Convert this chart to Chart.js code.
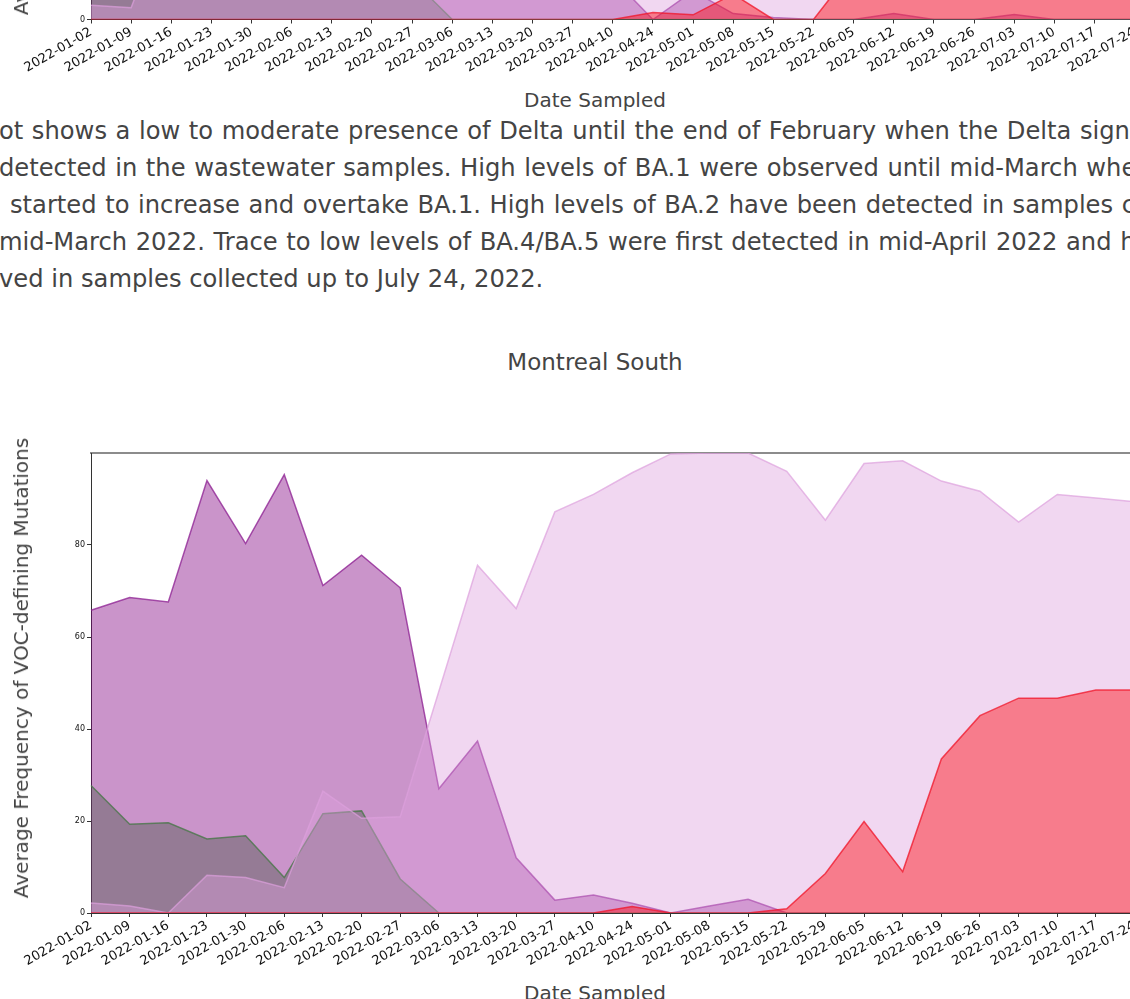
<!DOCTYPE html>
<html>
<head>
<meta charset="utf-8">
<title>Montreal South - VOC mutations</title>
<script src="https://cdn.jsdelivr.net/npm/chart.js@4.4.0/dist/chart.umd.min.js"></script>
<style>
  html, body { margin: 0; padding: 0; background: #fff; }
  body {
    width: 1130px; height: 999px; overflow: hidden; position: relative;
    font-family: "DejaVu Sans", sans-serif; color: #444;
  }
  canvas { position: absolute; left: 0; }
  #topChart { top: -481px; }
  #southChart { top: 440px; }
  .lbl { position: absolute; white-space: nowrap; transform: translate(-50%, -50%); }
  .ylbl { transform: translate(-50%, -50%) rotate(-90deg); font-size: 20px; }
  .para { position: absolute; left: 0; top: 113px; font-size: 24.2px; line-height: 37px; white-space: nowrap; }
  .para .j { word-spacing: 0.9px; }
</style>
</head>
<body>

<!-- bottom of the previous plot (only its x axis is in view) -->
<canvas id="topChart" width="1180" height="560"></canvas>
<div class="lbl ylbl" style="left:21px; top:-215px;">Average Frequency of VOC-defining Mutations</div>
<div class="lbl" style="left:595px; top:100px; font-size:20px;">Date Sampled</div>

<div class="para">
  <div class="j" style="margin-left:-1px">ot shows a low to moderate presence of Delta until the end of February when the Delta signal was no longer</div>
  <div class="j" style="margin-left:-1px">detected in the wastewater samples. High levels of BA.1 were observed until mid-March when BA.2</div>
  <div class="j" style="margin-left:10px">started to increase and overtake BA.1. High levels of BA.2 have been detected in samples collected since</div>
  <div class="j" style="margin-left:-1px">mid-March 2022. Trace to low levels of BA.4/BA.5 were first detected in mid-April 2022 and have been</div>
  <div style="margin-left:-1px">ved in samples collected up to July 24, 2022.</div>
</div>

<div class="lbl" style="left:595px; top:362px; font-size:23px;">Montreal South</div>
<canvas id="southChart" width="1180" height="533"></canvas>
<div class="lbl ylbl" style="left:21px; top:668px;">Average Frequency of VOC-defining Mutations</div>
<div class="lbl" style="left:595px; top:993px; font-size:20px;">Date Sampled</div>

<script>
// Montreal South - weekly samples
const southDates = ['2022-01-02', '2022-01-09', '2022-01-16', '2022-01-23', '2022-01-30', '2022-02-06',
  '2022-02-13', '2022-02-20', '2022-02-27', '2022-03-06', '2022-03-13', '2022-03-20', '2022-03-27',
  '2022-04-10', '2022-04-24', '2022-05-01', '2022-05-08', '2022-05-15', '2022-05-22', '2022-05-29',
  '2022-06-05', '2022-06-12', '2022-06-19', '2022-06-26', '2022-07-03', '2022-07-10', '2022-07-17', '2022-07-24'];
const southDelta = [27.7, 19.3, 19.6, 16.1, 16.8, 7.7, 21.6, 22.2, 7.4, 0, 0, 0, 0, 0,
  0, 0, 0, 0, 0, 0, 0, 0, 0, 0, 0, 0, 0, 0];
const southBA1 = [65.8, 68.6, 67.6, 94.0, 80.3, 95.3, 71.2, 77.8, 70.7, 27.0, 37.4, 12.0, 2.8, 3.9,
  2.1, 0, 1.5, 3.0, 0, 0, 0, 0, 0, 0, 0, 0, 0, 0];
const southBA2 = [2.2, 1.5, 0, 8.2, 7.7, 5.5, 26.5, 20.6, 20.9, 48.2, 75.6, 66.2, 87.2, 91.0,
  95.7, 99.8, 100, 100, 96.0, 85.4, 97.7, 98.3, 93.9, 91.7, 85.0, 91.0, 90.2, 89.4];
const southBA45 = [0, 0, 0, 0, 0, 0, 0, 0, 0, 0, 0, 0, 0, 0,
  1.4, 0, 0, 0, 0.9, 8.6, 19.9, 9.0, 33.5, 42.9, 46.7, 46.7, 48.5, 48.5];

// previous site (only the lowest few percent are visible)
const topDates = ['2022-01-02', '2022-01-09', '2022-01-16', '2022-01-23', '2022-01-30', '2022-02-06',
  '2022-02-13', '2022-02-20', '2022-02-27', '2022-03-06', '2022-03-13', '2022-03-20', '2022-03-27',
  '2022-04-10', '2022-04-24', '2022-05-01', '2022-05-08', '2022-05-15', '2022-05-22',
  '2022-06-05', '2022-06-12', '2022-06-19', '2022-06-26', '2022-07-03', '2022-07-10', '2022-07-17', '2022-07-24'];
const topDelta = [30.5, 24.0, 22.0, 18.5, 15.0, 9.5, 12.5, 14.0, 8.1, 0, 0, 0, 0, 0,
  0, 0, 0, 0, 0, 0, 0, 0, 0, 0, 0, 0, 0];
const topBA1 = [62, 70, 71, 88, 82, 92, 74, 76, 69, 45, 32, 14, 9, 8.4,
  0, 5.8, 1.2, 0.4, 0, 0, 1.2, 0, 0, 1.0, 0, 0, 0];
const topBA2 = [2.9, 2.4, 24, 19, 17, 14, 28, 25, 33, 52, 68, 82, 87, 89,
  94, 90, 88, 96, 98, 72, 63, 52, 47, 42, 38, 37, 36];
const topBA45 = [0, 0, 0, 0, 0, 0, 0, 0, 0, 0, 0, 0, 0, 0,
  1.45, 0.95, 5.2, 0, 0, 10.5, 28, 44, 51, 55, 58, 60, 62];

const yTicks = [0, 20, 40, 60, 80];

// fill / edge colours (fills are see-through, like the original overlapping areas)
const BA1_FILL = 'rgba(128, 0, 128, 0.42)', BA1_LINE = 'rgba(140, 30, 145, 0.75)';
const DELTA_FILL = 'rgba(76, 88, 76, 0.42)', DELTA_LINE = 'rgba(80, 120, 80, 0.85)';
const BA2_FILL = 'rgba(221, 160, 221, 0.42)', BA2_LINE = 'rgba(221, 160, 221, 0.7)';
const BA45_FILL = 'rgba(255, 0, 0, 0.42)', BA45_LINE = 'rgba(240, 20, 40, 0.75)';

function area(label, data, fill, line, order) {
  return {
    label: label, data: data, order: order,
    backgroundColor: fill, borderColor: line, borderWidth: 1.5,
    fill: 'origin', pointRadius: 0, tension: 0
  };
}

function makeChart(id, labels, delta, ba1, ba2, ba45, xAxisHeight, topPad) {
  const ctx = document.getElementById(id).getContext('2d');
  return new Chart(ctx, {
    type: 'line',
    data: {
      labels: labels,
      // lower order is painted on top: BA.1 first, then Delta, BA.2, BA.4/BA.5
      datasets: [
        area('BA.4/BA.5', ba45, BA45_FILL, BA45_LINE, 0),
        area('BA.2', ba2, BA2_FILL, BA2_LINE, 1),
        area('Delta', delta, DELTA_FILL, DELTA_LINE, 2),
        area('BA.1', ba1, BA1_FILL, BA1_LINE, 3)
      ]
    },
    options: {
      responsive: false,
      animation: false,
      devicePixelRatio: 1,
      layout: { autoPadding: false, padding: { top: topPad, right: 45.4, left: 0, bottom: 0 } },
      plugins: { legend: { display: false }, tooltip: { enabled: false } },
      scales: {
        x: {
          type: 'category',
          offset: false,
          grid: { drawOnChartArea: false, drawTicks: true, tickLength: 4, color: '#333', lineWidth: 1 },
          border: { display: true, color: '#333', width: 1 },
          ticks: {
            autoSkip: false, minRotation: 30, maxRotation: 30, padding: 1,
            color: '#111', font: { family: 'DejaVu Sans', size: 13 }
          },
          afterFit: function(s) { s.height = xAxisHeight; s.paddingLeft = 0; s.paddingRight = 0; }
        },
        xTop: {
          type: 'category',
          position: 'top',
          offset: false,
          grid: { display: false },
          ticks: { display: false },
          border: { display: true, color: 'rgba(0,0,0,0.45)', width: 2 },
          afterFit: function(s) { s.height = 0; s.paddingLeft = 0; s.paddingRight = 0; }
        },
        y: {
          min: 0, max: 100,
          grid: { drawOnChartArea: false, drawTicks: true, tickLength: 4, color: '#333', lineWidth: 1 },
          border: { display: true, color: '#333', width: 1 },
          ticks: { padding: 2, color: '#111', font: { family: 'DejaVu Sans', size: 8 } },
          afterBuildTicks: function(s) { s.ticks = yTicks.map(function(v) { return { value: v }; }); },
          afterFit: function(s) { s.width = 91; s.paddingTop = 0; s.paddingBottom = 0; }
        }
      }
    }
  });
}

makeChart('topChart', topDates, topDelta, topBA1, topBA2, topBA45, 59.5, 10);
makeChart('southChart', southDates, southDelta, southBA1, southBA2, southBA45, 60, 13);
</script>
</body>
</html>
